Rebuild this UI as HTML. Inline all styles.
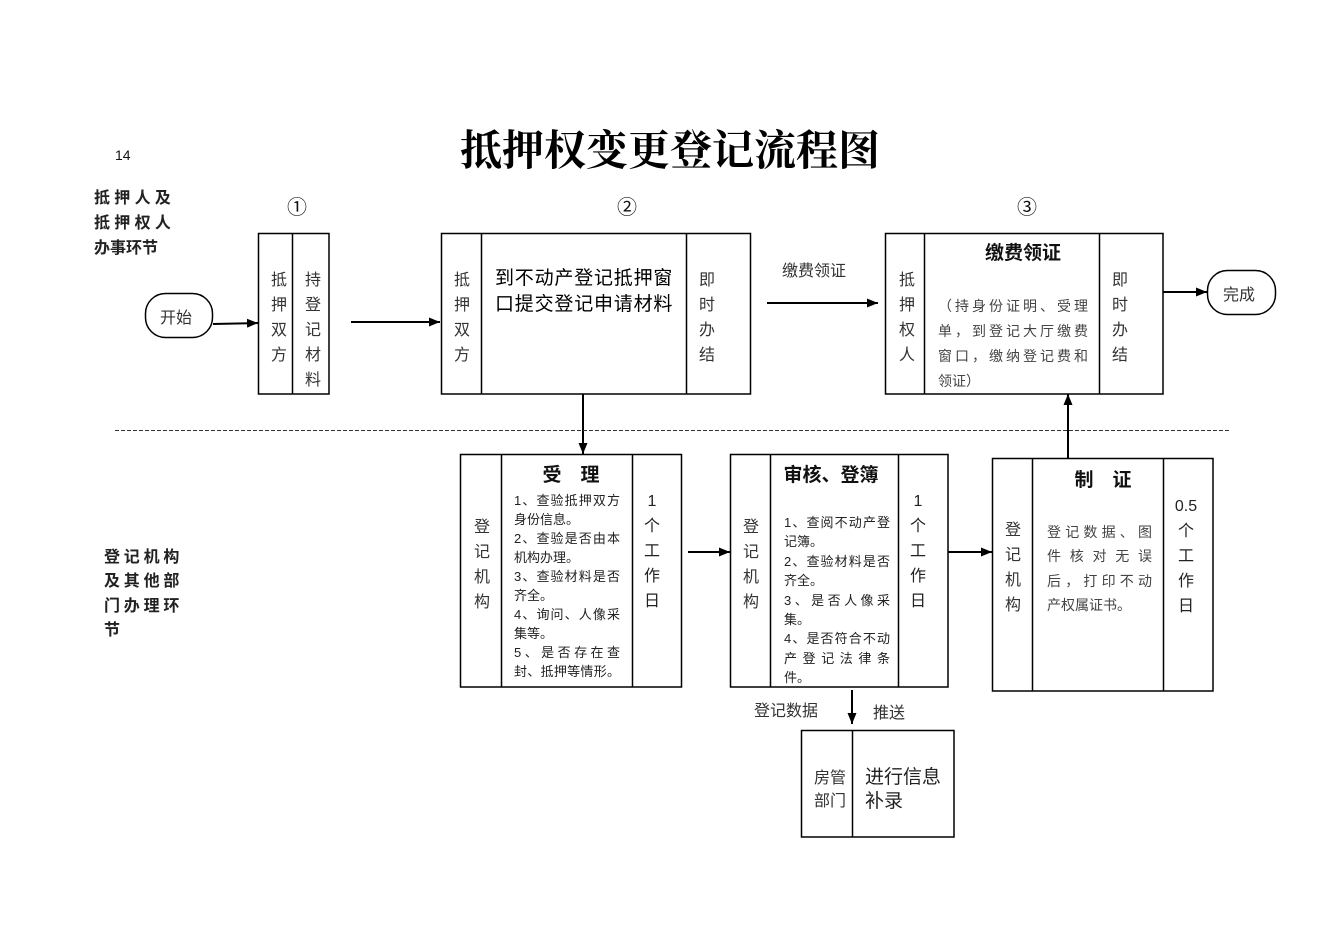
<!DOCTYPE html>
<html><head><meta charset="utf-8">
<style>
html,body{margin:0;padding:0;background:#fff;}
body{width:1341px;height:944px;position:relative;overflow:hidden;font-family:"Liberation Sans","Noto Sans CJK SC",sans-serif;color:#222;}
.t{position:absolute;white-space:nowrap;}
.col{position:absolute;text-align:center;font-size:16px;line-height:25px;color:#333;}
.j{display:block;text-align:justify;text-align-last:justify;white-space:nowrap;}
.l{display:block;white-space:nowrap;}
svg{position:absolute;left:0;top:0;}
</style></head><body>
<svg width="1341" height="944" viewBox="0 0 1341 944">
<defs>
<marker id="ah" markerWidth="11" markerHeight="9" refX="11" refY="4.5" orient="auto" markerUnits="userSpaceOnUse">
<path d="M0,0 L11,4.5 L0,9 Z" fill="#000"/>
</marker>
</defs>
<g fill="none" stroke="#000" stroke-width="1.5">
<rect x="145.5" y="293.5" width="67" height="44" rx="20" ry="20"/>
<rect x="258.5" y="233.5" width="70.5" height="160.5"/>
<line x1="292.5" y1="233.5" x2="292.5" y2="394"/>
<rect x="441.5" y="233.5" width="309" height="160.5"/>
<line x1="481.5" y1="233.5" x2="481.5" y2="394"/>
<line x1="686.5" y1="233.5" x2="686.5" y2="394"/>
<rect x="885.5" y="233.5" width="277.5" height="160.5"/>
<line x1="924.5" y1="233.5" x2="924.5" y2="394"/>
<line x1="1099.5" y1="233.5" x2="1099.5" y2="394"/>
<rect x="1207.5" y="270.5" width="68" height="44" rx="20" ry="20"/>
<rect x="460.5" y="454.5" width="221" height="232.5"/>
<line x1="501.5" y1="454.5" x2="501.5" y2="687"/>
<line x1="632.5" y1="454.5" x2="632.5" y2="687"/>
<rect x="730.5" y="454.5" width="217.5" height="232.5"/>
<line x1="770.5" y1="454.5" x2="770.5" y2="687"/>
<line x1="898.5" y1="454.5" x2="898.5" y2="687"/>
<rect x="992.5" y="458.5" width="220.5" height="232.5"/>
<line x1="1032.5" y1="458.5" x2="1032.5" y2="691"/>
<line x1="1163.5" y1="458.5" x2="1163.5" y2="691"/>
<rect x="801.5" y="730.5" width="152.5" height="106.5"/>
<line x1="852.5" y1="730.5" x2="852.5" y2="837"/>
</g>
<g stroke="#000" stroke-width="2" fill="none">
<line x1="213" y1="324" x2="258" y2="323" marker-end="url(#ah)"/>
<line x1="351" y1="322" x2="440" y2="322" marker-end="url(#ah)"/>
<line x1="767" y1="303" x2="878" y2="303" marker-end="url(#ah)"/>
<line x1="1163" y1="292" x2="1207" y2="292" marker-end="url(#ah)"/>
<line x1="583" y1="394" x2="583" y2="454" marker-end="url(#ah)"/>
<line x1="688" y1="552" x2="730" y2="552" marker-end="url(#ah)"/>
<line x1="948" y1="552" x2="992" y2="552" marker-end="url(#ah)"/>
<line x1="1068" y1="458" x2="1068" y2="394" marker-end="url(#ah)"/>
<line x1="852" y1="690" x2="852" y2="724" marker-end="url(#ah)"/>
</g>
<line x1="115" y1="430.5" x2="1230" y2="430.5" stroke="#333" stroke-width="1" stroke-dasharray="4,2"/>
</svg>

<div class="t" style="left:115px;top:146px;font-size:14px;line-height:18px;color:#111;">14</div>
<div class="t" style="left:370px;top:124px;width:600px;text-align:center;font-family:'Liberation Serif','Noto Serif CJK SC',serif;font-weight:bold;font-size:42px;line-height:56px;color:#000;">抵押权变更登记流程图</div>

<div class="t" style="left:94px;top:186px;font-size:16px;line-height:25px;font-weight:bold;color:#222;">
<span style="letter-spacing:4.3px">抵押人及</span><br><span style="letter-spacing:4.3px">抵押权人</span><br>办事环节</div>

<div class="t" style="left:104px;top:545.5px;font-size:16px;line-height:24.5px;font-weight:bold;color:#222;letter-spacing:3.8px;">登记机构<br>及其他部<br>门办理环<br>节</div>

<div class="t" style="left:284px;top:196px;width:26px;text-align:center;font-size:20px;line-height:24px;color:#111;">①</div>
<div class="t" style="left:614px;top:196px;width:26px;text-align:center;font-size:20px;line-height:24px;color:#111;">②</div>
<div class="t" style="left:1014px;top:196px;width:26px;text-align:center;font-size:20px;line-height:24px;color:#111;">③</div>

<div class="t" style="left:146px;top:308px;width:60px;text-align:center;font-size:16px;line-height:22px;color:#333;">开始</div>
<div class="t" style="left:1207px;top:285px;width:64px;text-align:center;font-size:16px;line-height:22px;color:#333;">完成</div>

<div class="col" style="left:266px;top:267.5px;width:26px;">抵<br>押<br>双<br>方</div>
<div class="col" style="left:300px;top:267.5px;width:26px;">持<br>登<br>记<br>材<br>料</div>

<div class="col" style="left:449px;top:267.5px;width:26px;">抵<br>押<br>双<br>方</div>
<div class="t" style="left:495px;top:266px;font-size:19px;line-height:26px;letter-spacing:0.8px;color:#000;">到不动产登记抵押窗<br>口提交登记申请材料</div>
<div class="col" style="left:694px;top:267.5px;width:26px;">即<br>时<br>办<br>结</div>
<div class="t" style="left:782px;top:261px;font-size:16px;line-height:22px;color:#333;">缴费领证</div>

<div class="col" style="left:894px;top:267.5px;width:26px;">抵<br>押<br>权<br>人</div>
<div class="t" style="left:980px;top:242px;width:86px;text-align:center;font-size:19px;line-height:24px;font-weight:bold;color:#111;">缴费领证</div>
<div class="t" style="left:938px;top:293.5px;width:150px;font-size:14px;line-height:25px;color:#444;">
<span class="j">（持身份证明、受理</span><span class="j">单，到登记大厅缴费</span><span class="j">窗口，缴纳登记费和</span><span class="l">领证）</span></div>
<div class="col" style="left:1107px;top:267.5px;width:26px;">即<br>时<br>办<br>结</div>

<div class="col" style="left:469px;top:514.5px;width:26px;">登<br>记<br>机<br>构</div>
<div class="t" style="left:520px;top:464px;width:102px;text-align:center;font-size:19px;line-height:24px;font-weight:bold;color:#111;">受　理</div>
<div class="t" style="left:514px;top:491px;width:106px;font-size:13px;line-height:19px;color:#222;">
<span class="j">1、查验抵押双方</span><span class="l">身份信息。</span><span class="j">2、查验是否由本</span><span class="l">机构办理。</span><span class="j">3、查验材料是否</span><span class="l">齐全。</span><span class="j">4、询问、人像采</span><span class="l">集等。</span><span class="j">5、是否存在查</span><span class="j">封、抵押等情形。</span></div>
<div class="col" style="left:639px;top:489px;width:26px;color:#222;">1<br>个<br>工<br>作<br>日</div>

<div class="col" style="left:738px;top:514.5px;width:26px;">登<br>记<br>机<br>构</div>
<div class="t" style="left:778px;top:464px;width:106px;text-align:center;font-size:19px;line-height:24px;font-weight:bold;color:#111;">审核、登簿</div>
<div class="t" style="left:784px;top:513px;width:106px;font-size:13px;line-height:19.4px;color:#222;">
<span class="j">1、查阅不动产登</span><span class="l">记簿。</span><span class="j">2、查验材料是否</span><span class="l">齐全。</span><span class="j">3、是否人像采</span><span class="l">集。</span><span class="j">4、是否符合不动</span><span class="j">产登记法律条</span><span class="l">件。</span></div>
<div class="col" style="left:905px;top:489px;width:26px;color:#222;">1<br>个<br>工<br>作<br>日</div>

<div class="col" style="left:1000px;top:517.5px;width:26px;">登<br>记<br>机<br>构</div>
<div class="t" style="left:1050px;top:469px;width:106px;text-align:center;font-size:19px;line-height:24px;font-weight:bold;color:#111;">制　证</div>
<div class="t" style="left:1047px;top:520px;width:105px;font-size:14px;line-height:24.3px;color:#444;">
<span class="j">登记数据、图</span><span class="j">件核对无误</span><span class="j">后，打印不动</span><span class="l">产权属证书。</span></div>
<div class="col" style="left:1171px;top:493.5px;width:30px;color:#222;">0.5<br>个<br>工<br>作<br>日</div>

<div class="t" style="left:754px;top:701px;font-size:16px;line-height:22px;color:#333;">登记数据</div>
<div class="t" style="left:873px;top:703px;font-size:16px;line-height:22px;color:#333;">推送</div>
<div class="t" style="left:814px;top:766.5px;font-size:16px;line-height:23px;color:#333;">房管<br>部门</div>
<div class="t" style="left:865px;top:765.5px;font-size:19px;line-height:24px;color:#222;">进行信息<br>补录</div>
</body></html>
